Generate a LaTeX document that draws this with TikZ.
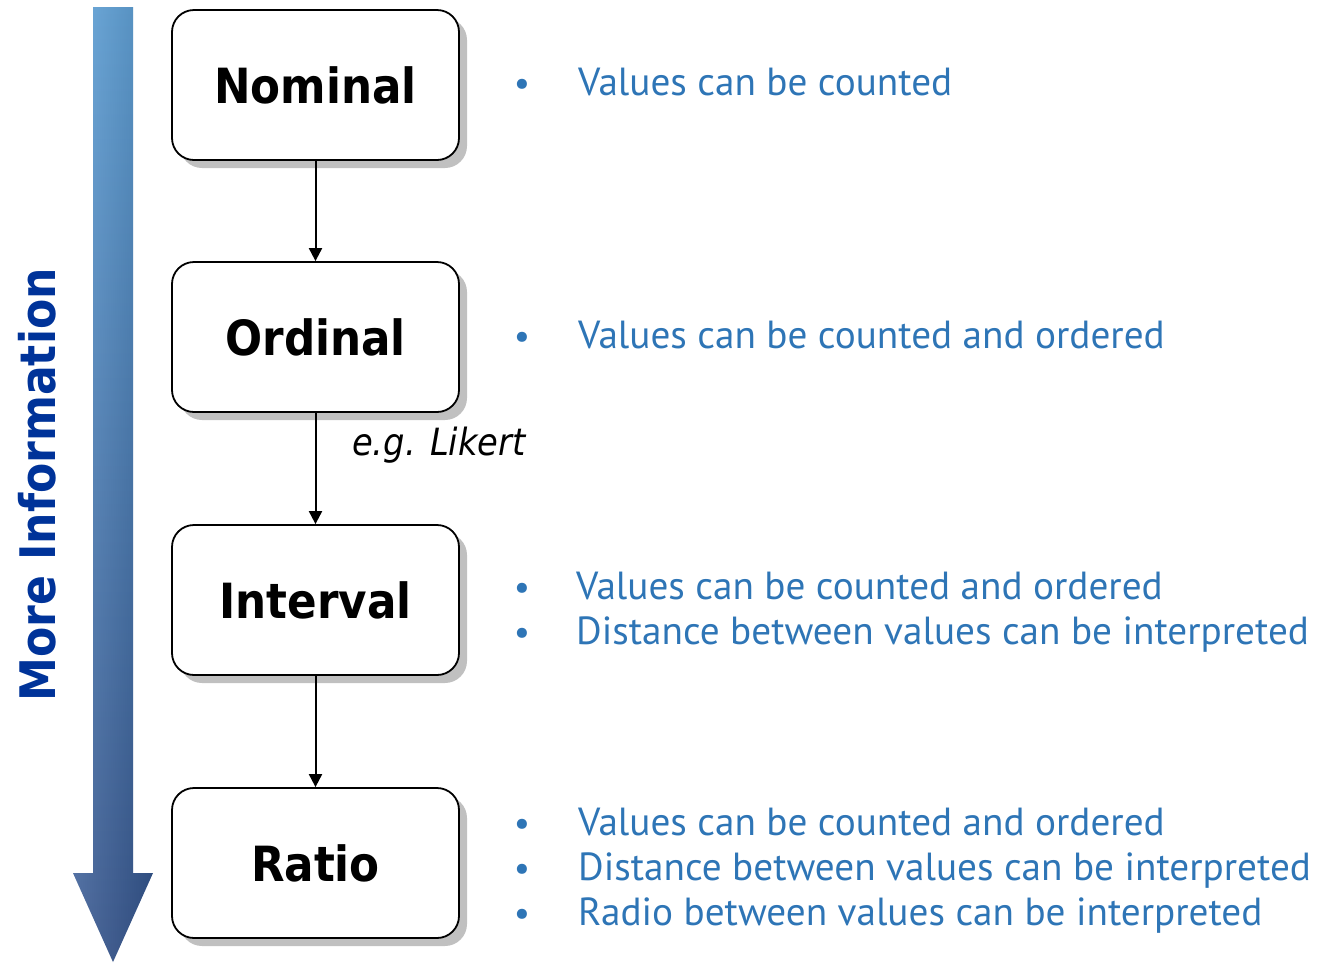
\documentclass[tikz,border=0pt]{standalone}
\usepackage{fontspec}
\setmainfont{PT Sans}
\newfontfamily\heavy{DejaVu Sans Condensed}[BoldFont={DejaVu Sans Condensed Bold},ItalicFont={DejaVu Sans Condensed Oblique}]
\usetikzlibrary{arrows.meta,shadows}
\definecolor{infoblue}{RGB}{0,51,153}
\definecolor{textblue}{RGB}{46,117,182}
\definecolor{shafttop}{RGB}{92,160,216}
\definecolor{shaftbot}{RGB}{52,84,142}
\definecolor{shadowgray}{RGB}{192,192,192}
\tikzset{
  levelbox/.style={draw=black, line width=1.8pt, rounded corners=22pt, fill=white,
    minimum width=287pt, minimum height=150pt, inner sep=0pt,
    font=\heavy\bfseries\fontsize{48.5}{54}\selectfont,
    drop shadow={shadow xshift=8pt, shadow yshift=-8pt, fill=shadowgray, opacity=1}},
  link/.style={line width=2pt, -{Triangle[length=13pt,width=13pt]}},
  bulletmark/.style={anchor=base, inner sep=0pt, text=textblue, font=\fontsize{36}{40}\selectfont},
  bullettext/.style={anchor=base west, inner sep=0pt, text=textblue, font=\fontsize{39.2}{46}\selectfont},
}
\begin{document}
\begin{tikzpicture}[x=1pt,y=-1pt]
\useasboundingbox (0,0) rectangle (1322,962);

% big downward arrow
\path[top color=shafttop, bottom color=shaftbot]
  (93,7) -- (133,7) -- (133,873) -- (153,873) -- (113,962) -- (73,873) -- (93,873) -- cycle;
\path[left color=white, right color=black, opacity=0.14]
  (93,7) -- (133,7) -- (133,873) -- (153,873) -- (113,962) -- (73,873) -- (93,873) -- cycle;

\node[rotate=90, text=infoblue, inner sep=0pt, font=\heavy\bfseries\fontsize{49}{55}\selectfont]
  (more) at (37,485) {More Information};

% levels of measurement
\node[levelbox] (nom) at (315.5,85) {Nominal};
\node[levelbox] (ord) at (315.5,337) {Ordinal};
\node[levelbox] (int) at (315.5,600) {Interval};
\node[levelbox] (rat) at (315.5,863) {Ratio};

\draw[link] (nom.south) -- (ord.north);
\draw[link] (ord.south) -- (int.north);
\draw[link] (int.south) -- (rat.north);

\node[anchor=base west, inner sep=0pt, font=\heavy\itshape\fontsize{37.5}{44}\selectfont]
  (likert) at (352,455) {e.g. Likert};

% properties
\node[bulletmark] (b1) at (522,95) {•};
\node[bullettext] (t1) at (578,95) {Values can be counted};

\node[bulletmark] (b2) at (522,348) {•};
\node[bullettext] (t2) at (578,348) {Values can be counted and ordered};

\node[bulletmark] (b3) at (522,599) {•};
\node[bullettext] (t3) at (576,599) {Values can be counted and ordered};
\node[bulletmark] (b4) at (522,644) {•};
\node[bullettext] (t4) at (576,644) {Distance between values can be interpreted};

\node[bulletmark] (b5) at (522,835) {•};
\node[bullettext] (t5) at (578,835) {Values can be counted and ordered};
\node[bulletmark] (b6) at (522,880) {•};
\node[bullettext] (t6) at (578,880) {Distance between values can be interpreted};
\node[bulletmark] (b7) at (522,925) {•};
\node[bullettext] (t7) at (578,925) {Radio between values can be interpreted};
\end{tikzpicture}
\end{document}
